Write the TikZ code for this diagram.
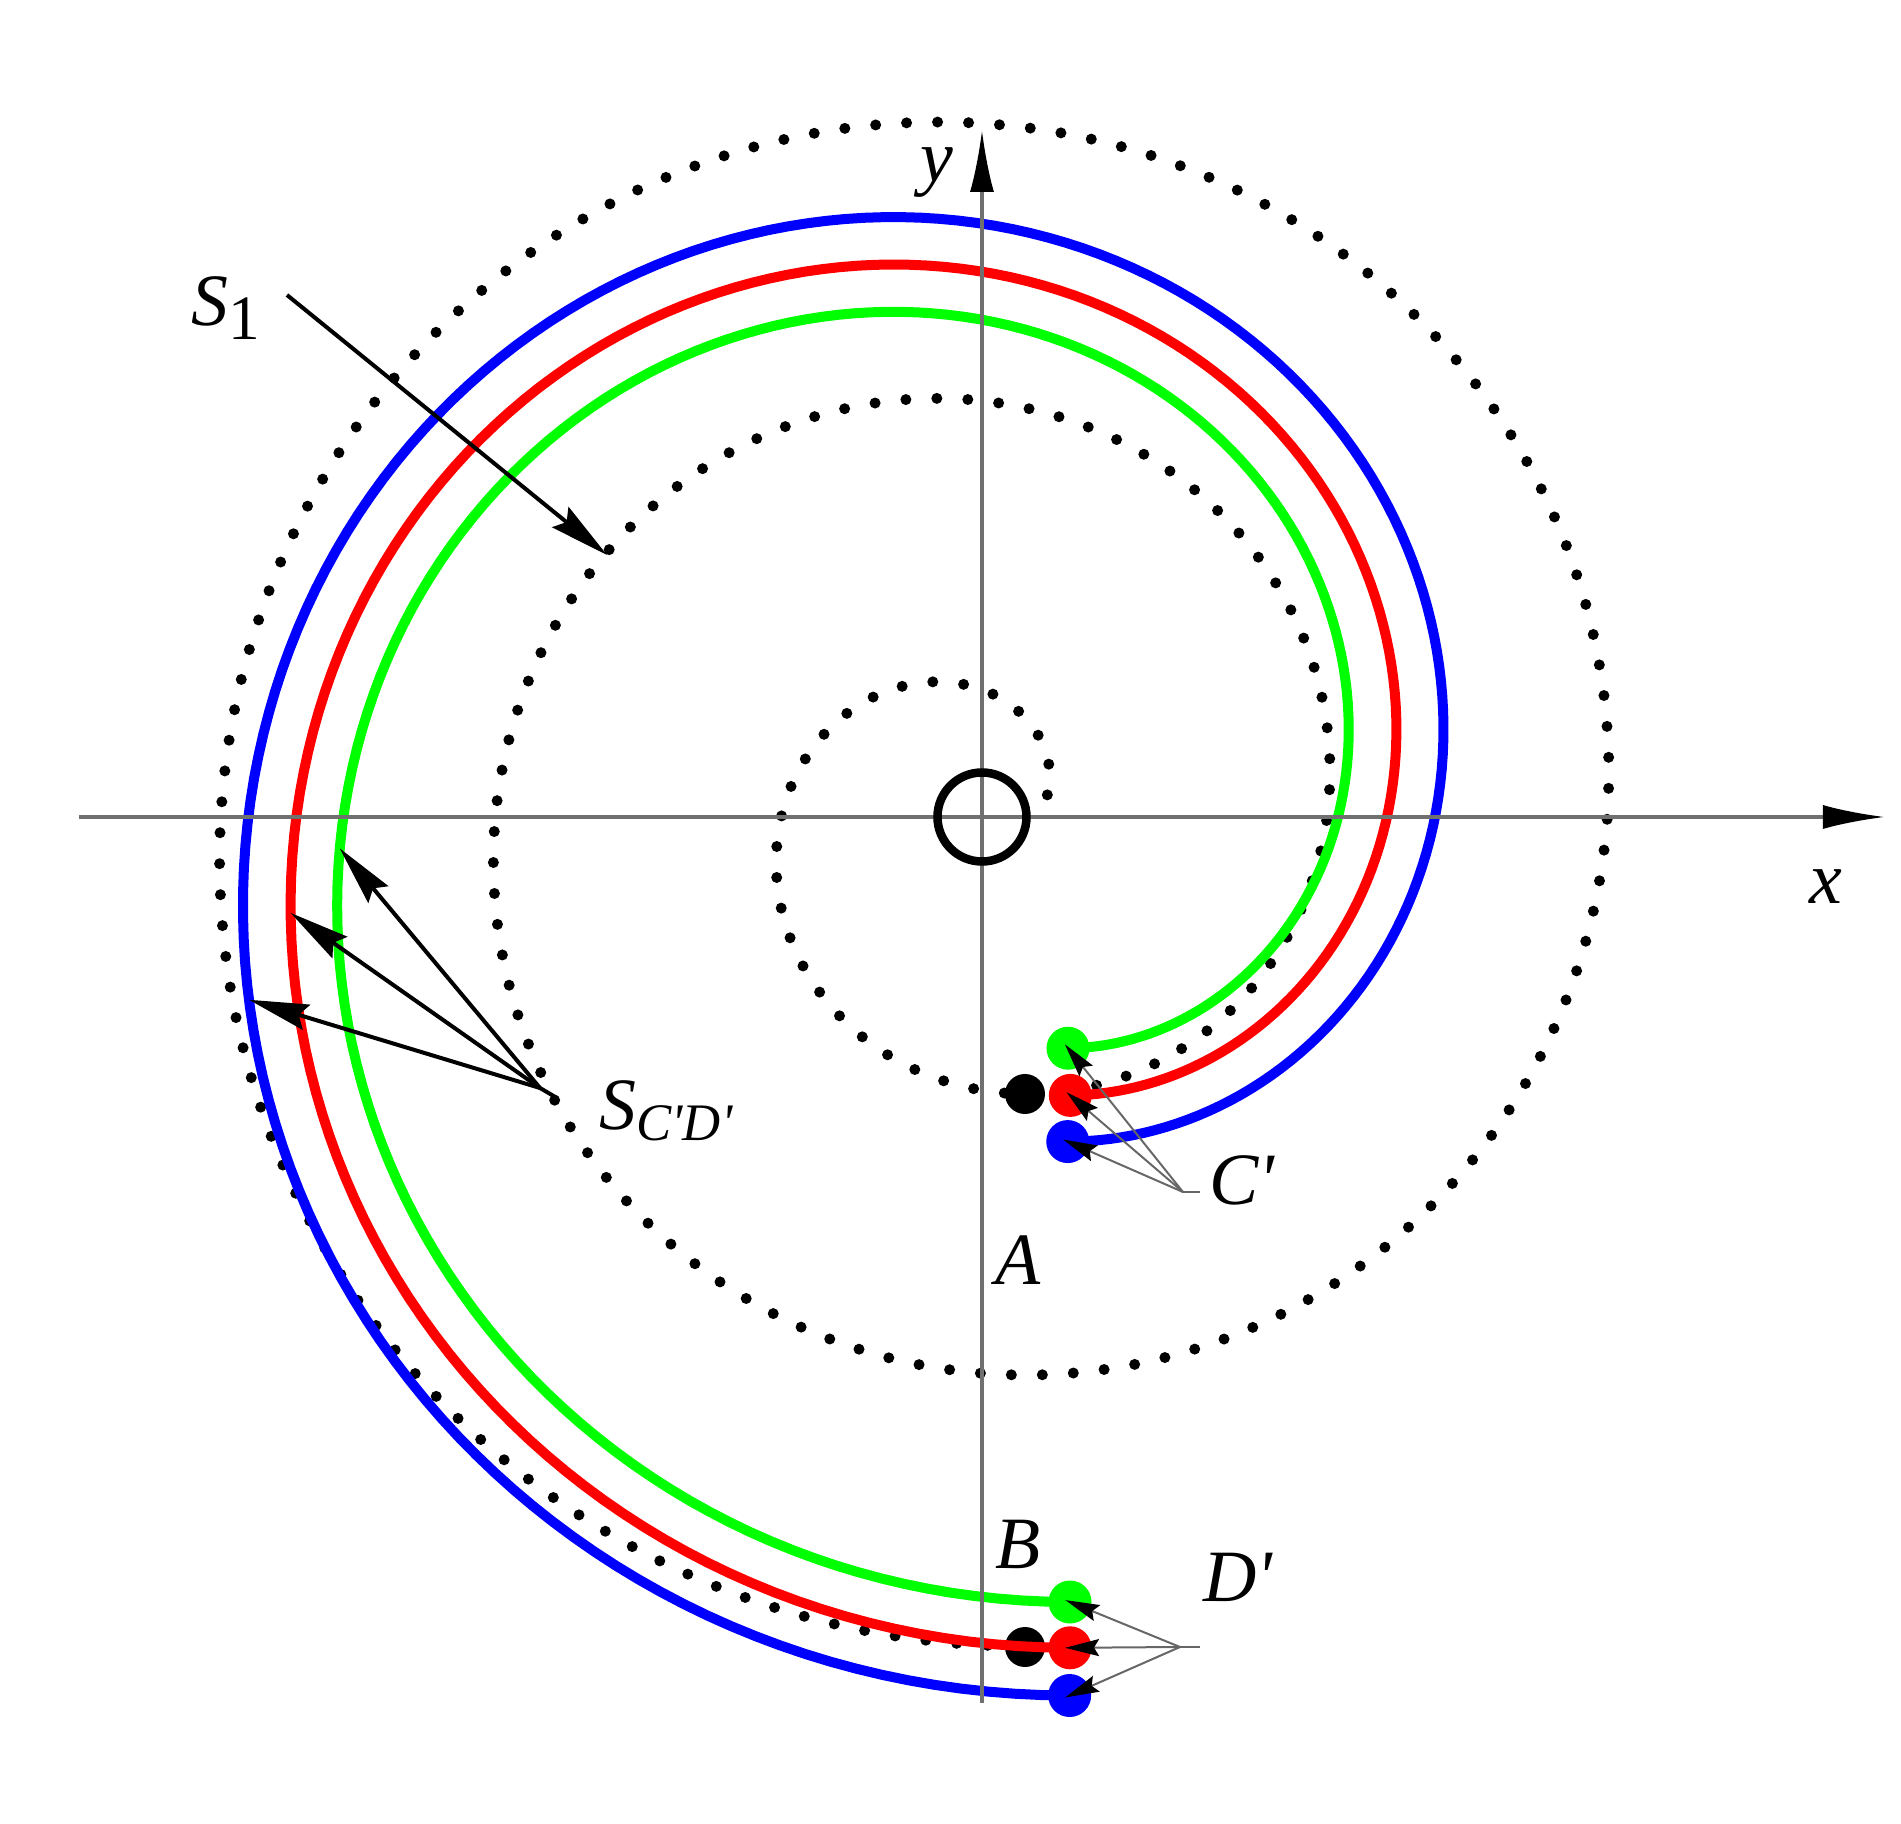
\documentclass[tikz,border=0pt]{standalone}
\usepackage{fontspec}
\setmainfont{Liberation Serif}
\usepackage{tikz}
\usetikzlibrary{arrows.meta}
\definecolor{trgreen}{HTML}{00FF00}
\definecolor{trred}{HTML}{FF0000}
\definecolor{trblue}{HTML}{0000FF}
\definecolor{axisgray}{HTML}{707070}
\newcommand{\prm}{\textquotesingle}

\begin{document}
\begin{tikzpicture}[
  axis/.style={
    draw=axisgray, line width=0.035cm,
    -{Latex[length=0.62cm,width=0.24cm,color=black]}},
  orbit/.style={
    draw=black, line width=0.11cm, line cap=round,
    dash pattern=on 0pt off 0.31cm},
  traj/.style={draw=#1, line width=0.1cm},
  spot/.style={
    circle, fill=#1, inner sep=0pt,
    minimum size=0.43cm},
  ring/.style={
    circle, draw=black, line width=0.085cm, inner sep=0pt,
    minimum size=0.89cm},
  pointer/.style={
    draw=black, line width=0.04cm,
    -{Stealth[length=0.6cm,width=0.26cm,inset=0.08cm]}},
  callout/.style={
    draw=black!60, line width=0.02cm, shorten >=-0.05cm,
    -{Stealth[length=0.34cm,width=0.17cm,inset=0.05cm,color=black]}},
  lab/.style={font=\fontsize{21}{25}\selectfont\itshape, inner sep=0pt},
  declare function={
    rdot(\t)=0.5356+0.008261*\t-0.00435*(\t/100)^2;
    rgreen(\t)=3.56+0.0157*\t;
    rred(\t)=4.05+0.0156*\t;
    rblue(\t)=4.53+0.0156*\t;
  },
]

  \useasboundingbox (-9.82,-10.07) rectangle (9.19,8.17);

  % dotted orbit
  \draw[orbit] plot[domain=18.7:993, samples=500, variable=\t] (\t:{rdot(\t)});

  \node[spot=black, minimum size=0.4cm] (pA) at (0.43,-2.77) {};
  \node[spot=black, minimum size=0.4cm] (pB) at (0.43,-8.30) {};

  % trajectories C' -> D'
  \draw[traj=trgreen] plot[domain=-69.6:276.4, samples=200, variable=\t] (\t:{rgreen(\t)});
  \draw[traj=trred] plot[domain=-72.4:276.05, samples=200, variable=\t] (\t:{rred(\t)});
  \draw[traj=trblue] plot[domain=-75.2:275.7, samples=200, variable=\t] (\t:{rblue(\t)});

  \node[spot=trgreen] (Cg) at (-69.6:{rgreen(-69.6)}) {};
  \node[spot=trred] (Cr) at (-72.4:{rred(-72.4)}) {};
  \node[spot=trblue] (Cb) at (-75.2:{rblue(-75.2)}) {};
  \node[spot=trgreen] (Dg) at (276.4:{rgreen(276.4)}) {};
  \node[spot=trred] (Dr) at (276.05:{rred(276.05)}) {};
  \node[spot=trblue] (Db) at (275.7:{rblue(275.7)}) {};

  % axes
  \coordinate (xl) at (-9.03,0);
  \coordinate (xr) at (9.03,0);
  \coordinate (yb) at (0,-8.86);
  \coordinate (yt) at (0,6.87);
  \draw[axis] (xl) -- (xr);
  \draw[axis] (yb) -- (yt);
  \node[ring] (O) at (0,0) {};

  % labels
  \node[lab] (xlab) at (8.44,-0.70) {x};
  \node[lab] (ylab) at (-0.45,6.44) {y};
  \node[lab] (Alab) at (0.36,-4.43) {A};
  \node[lab] (Blab) at (0.36,-7.27) {B};
  \node[lab] (Clab) at (2.60,-3.63) {C\prm};
  \node[lab] (Dlab) at (2.56,-7.60) {D\prm};
  \node[lab] (S1lab) at (-7.56,5.09)
    {S\raisebox{-0.2em}{\upshape\fontsize{18}{20}\selectfont 1}};
  \node[lab] (SClab) at (-3.16,-2.94)
    {S\raisebox{-0.15em}{\fontsize{15}{17}\selectfont C\prm D\prm}};

  % S_1
  \coordinate (s1from) at (-6.95,5.22);
  \coordinate (s1to) at (-3.75,2.62);
  \draw[pointer] (s1from) -- (s1to);

  % S_C'D'
  \coordinate (sjoin) at (-4.42,-2.71);
  \coordinate (stail) at (-4.25,-2.81);
  \coordinate (sg) at (182.8:{rgreen(182.8)});
  \coordinate (sr) at (187.9:{rred(187.9)});
  \coordinate (sb) at (194.0:{rblue(194.0)});
  \draw[line width=0.04cm] (stail) -- (sjoin);
  \foreach \n in {g,r,b} {
    \draw[pointer] (sjoin) -- (s\n);
  }

  % C' and D'
  \coordinate (cjoin) at (2.01,-3.75);
  \coordinate (ctail) at (2.18,-3.75);
  \coordinate (djoin) at (1.98,-8.30);
  \coordinate (dtail) at (2.18,-8.30);
  \draw[draw=black!60, line width=0.02cm] (ctail) -- (cjoin);
  \draw[draw=black!60, line width=0.02cm] (dtail) -- (djoin);
  \foreach \n in {g,r,b} {
    \draw[callout] (cjoin) -- (C\n.center);
    \draw[callout] (djoin) -- (D\n.center);
  }

\end{tikzpicture}
\end{document}
